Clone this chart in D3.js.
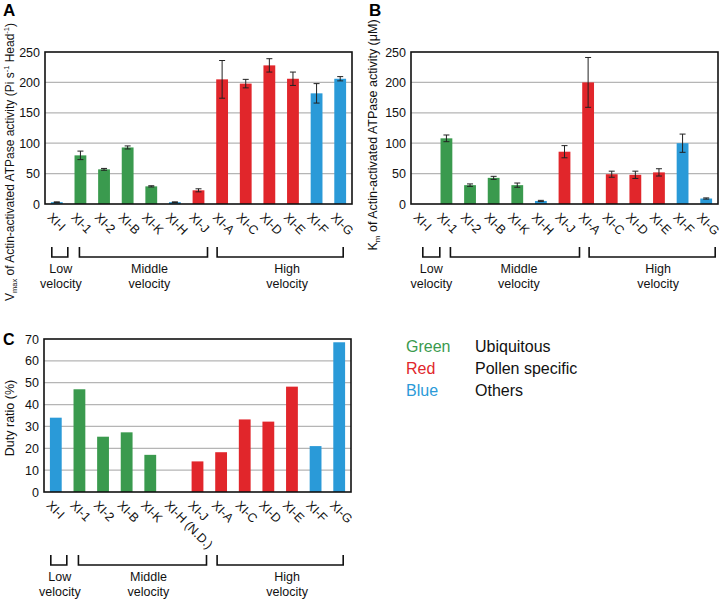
<!DOCTYPE html>
<html><head><meta charset="utf-8">
<script src="https://cdn.jsdelivr.net/npm/d3@7"></script>
<style>body{margin:0;background:#fff}svg{display:block;font-family:"Liberation Sans",Arial,sans-serif}</style>
</head><body><svg id="c" width="724" height="600"></svg>
<script>
const categories = ["XI-I","XI-1","XI-2","XI-B","XI-K","XI-H","XI-J","XI-A","XI-C","XI-D","XI-E","XI-F","XI-G"];
const cTickLabels = ["XI-I","XI-1","XI-2","XI-B","XI-K","XI-H (N.D.)","XI-J","XI-A","XI-C","XI-D","XI-E","XI-F","XI-G"];
const groups = ["Others","Ubiquitous","Ubiquitous","Ubiquitous","Ubiquitous","Others","Pollen specific","Pollen specific","Pollen specific","Pollen specific","Pollen specific","Others","Others"];
const vmax    = [3, 80, 57, 93, 29, 3, 22.5, 205, 198, 228, 206, 182, 206];
const vmaxErr = [0.5, 7, 1.5, 2.5, 1, 0.5, 2.5, 31, 7, 11, 11, 16, 3.5];
const km      = [0, 108, 31, 43, 31, 5, 86, 200, 49, 48, 52, 100, 9];
const kmErr   = [0, 5.5, 2, 2.5, 3.5, 1, 10, 41, 5, 6, 6, 15, 1];
const duty    = [34, 47, 25.3, 27.3, 17, 0, 14, 18.2, 33.2, 32.2, 48.2, 21, 68.5];
const ticksAB = [0, 50, 100, 150, 200, 250];
const ticksC  = [0, 10, 20, 30, 40, 50, 60, 70];
const velocityGroups = [
  {label:["Low","velocity"], first:"XI-I", last:"XI-I"},
  {label:["Middle","velocity"], first:"XI-1", last:"XI-J"},
  {label:["High","velocity"], first:"XI-A", last:"XI-G"}
];
const legendNames = ["Green","Red","Blue"];
const legendGroups = ["Ubiquitous","Pollen specific","Others"];

const colorOf = {"Ubiquitous":"#3a9a4e","Pollen specific":"#e1262b","Others":"#2a9ad8"};
const svg = d3.select("#c");

function panel(o){
  const g = svg.append("g");
  const x = d3.scaleBand().domain(categories).range([o.x0,o.x1]).paddingInner(0.5).paddingOuter(0.25);
  const y = d3.scaleLinear().domain([0,o.max]).range([o.y1,o.y0]);
  g.append("g").selectAll("line").data(o.ticks.filter(t=>t>0 && t<o.max)).join("line")
    .attr("x1",o.x0).attr("x2",o.x1).attr("y1",d=>y(d)).attr("y2",d=>y(d))
    .attr("stroke","#b5b5b5").attr("stroke-width",1.2);
  const ya = d3.axisLeft(y).tickValues(o.ticks).tickSize(0).tickPadding(5);
  const yg = g.append("g").attr("transform",`translate(${o.x0},0)`).call(ya);
  yg.select(".domain").remove();
  yg.selectAll("text").attr("font-size",12.5).attr("fill","#111").attr("font-family","Liberation Sans, Arial, sans-serif");
  g.append("g").selectAll("rect").data(categories.map((c,i)=>({c,v:o.values[i],grp:groups[i]}))).join("rect")
    .attr("x",d=>x(d.c)).attr("width",x.bandwidth())
    .attr("y",d=>y(d.v)).attr("height",d=>o.y1-y(d.v))
    .attr("fill",d=>colorOf[d.grp]);
  if(o.err){
    const eg = g.append("g").attr("stroke","#222").attr("stroke-width",1);
    categories.forEach((c,i)=>{
      if(!o.err[i] && !o.values[i]) return;
      const cx = x(c)+x.bandwidth()/2;
      const t = y(o.values[i]+o.err[i]), b = y(o.values[i]-o.err[i]);
      eg.append("line").attr("x1",cx).attr("x2",cx).attr("y1",t).attr("y2",b);
      eg.append("line").attr("x1",cx-3).attr("x2",cx+3).attr("y1",t).attr("y2",t);
      eg.append("line").attr("x1",cx-3).attr("x2",cx+3).attr("y1",b).attr("y2",b);
    });
  }
  g.append("rect").attr("x",o.x0).attr("y",o.y0).attr("width",o.x1-o.x0).attr("height",o.y1-o.y0)
    .attr("fill","none").attr("stroke","#111").attr("stroke-width",1.6);
  const labels = o.tickLabels || categories;
  g.append("g").selectAll("text").data(categories).join("text")
    .attr("transform",d=>`translate(${x(d)+x.bandwidth()/2-10},${o.y1+14}) rotate(45)`)
    .attr("font-size",12.5).attr("fill","#111")
    .text((d,i)=>labels[i]);
  const by0 = o.y1 + o.bTop, by1 = o.y1 + o.bTop + 10;
  velocityGroups.forEach((vg,k)=>{
    const cf = x(vg.first)+x.bandwidth()/2, cl = x(vg.last)+x.bandwidth()/2;
    const off = o.bOff[k];
    const xa = cf+off[0], xb = cl+off[1];
    g.append("path").attr("d",`M${xa},${by0}V${by1}H${xb}V${by0}`)
      .attr("fill","none").attr("stroke","#111").attr("stroke-width",1.6);
    const lx = (xa+xb)/2 + off[2];
    vg.label.forEach((t,j)=>{
      g.append("text").attr("x",lx).attr("y",by1+16+j*15).attr("text-anchor","middle")
        .attr("font-size",12.5).attr("fill","#111").text(t);
    });
  });
  g.append("text").attr("x",o.lx).attr("y",o.ly).attr("font-size",o.lsize||17).attr("font-weight","bold").text(o.letter);
  return {x,y};
}

panel({x0:45,x1:352,y0:52,y1:204,max:250,ticks:ticksAB,values:vmax,err:vmaxErr,
  bTop:43,bOff:[[-5,11,1],[-1,9,6],[-5,3,7]],letter:"A",lx:3,ly:16});
panel({x0:411,x1:718,y0:52,y1:204,max:250,ticks:ticksAB,values:km,err:kmErr,
  bTop:43,bOff:[[0,17,0],[4,15,4],[1,9,6]],letter:"B",lx:369,ly:16});
panel({x0:44,x1:351,y0:339,y1:492,max:70,ticks:ticksC,values:duty,err:null,tickLabels:cTickLabels,
  bTop:63,bOff:[[-5,11,1],[-1,9,6],[-4,4,7]],letter:"C",lx:3,ly:345,lsize:16});

const tA = svg.append("text").attr("transform","translate(14,162) rotate(-90)").attr("text-anchor","middle")
  .attr("font-size",12).attr("fill","#111");
tA.append("tspan").text("V");
tA.append("tspan").attr("font-size",7.5).attr("dy",3).text("max");
tA.append("tspan").attr("dy",-3).text(" of Actin-activated ATPase activity (Pi s");
tA.append("tspan").attr("font-size",7.5).attr("dy",-5).text("-1");
tA.append("tspan").attr("dy",5).text(" Head");
tA.append("tspan").attr("font-size",7.5).attr("dy",-5).text("-1");
tA.append("tspan").attr("dy",5).text(")");

const tB = svg.append("text").attr("transform","translate(377,135) rotate(-90)").attr("text-anchor","middle")
  .attr("font-size",12.5).attr("fill","#111");
tB.append("tspan").text("K");
tB.append("tspan").attr("font-size",8).attr("dy",3).text("m");
tB.append("tspan").attr("dy",-3).text(" of Actin-activated ATPase activity (μM)");

svg.append("text").attr("transform","translate(14,418) rotate(-90)").attr("text-anchor","middle")
  .attr("font-size",12.5).attr("fill","#111").text("Duty ratio (%)");

const lg = svg.append("g");
legendNames.forEach((n,i)=>{
  lg.append("text").attr("x",406).attr("y",352+i*22).attr("font-size",16).attr("fill",colorOf[legendGroups[i]]).text(n);
  lg.append("text").attr("x",475).attr("y",352+i*22).attr("font-size",16).attr("fill","#111").text(legendGroups[i]);
});
</script></body></html>
